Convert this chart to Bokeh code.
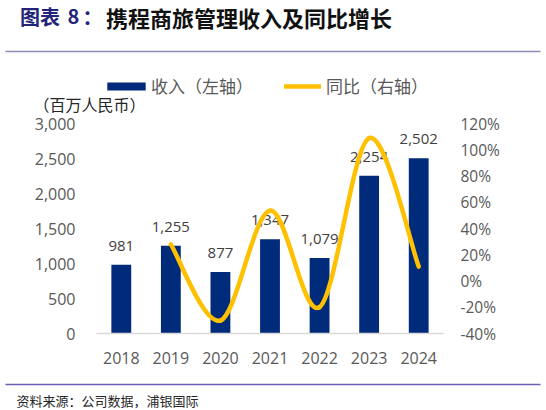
import numpy as np
from bokeh.plotting import figure
from bokeh.models import (Range1d, LinearAxis, FixedTicker, NumeralTickFormatter,
                          PrintfTickFormatter, ColumnDataSource, LabelSet, Label,
                          Legend, LegendItem, BoxAnnotation)
from bokeh.core.properties import value
from bokeh.embed import file_html
from bokeh.resources import INLINE

years = ["2018", "2019", "2020", "2021", "2022", "2023", "2024"]
revenue = [981, 1255, 877, 1347, 1079, 2254, 2502]
yoy_years = ["2019", "2020", "2021", "2022", "2023", "2024"]
yoy = [27.9, -30.1, 53.6, -19.9, 108.9, 11.0]
left_ticks = [0, 500, 1000, 1500, 2000, 2500, 3000]
right_ticks = [-40, -20, 0, 20, 40, 60, 80, 100, 120]

BAR = "#002A7A"
GOLD = "#FFC000"
TICK = "#595959"
NUM_FONT = "Open Sans"
CJK = "Noto Sans CJK SC"

# canvas and plot-area geometry (pixels); the frame fills the canvas and
# the axes are pinned to the plot area with fixed_location
W, H = 546, 410
L, R, T, B = 96, 443, 123, 333
ncat = len(years)
cw = (R - L) / ncat
lo, hi = left_ticks[0], left_ticks[-1]
rlo, rhi = right_ticks[0], right_ticks[-1]
k = (B - T) / (hi - lo)
kr = (B - T) / (rhi - rlo)

p = figure(width=W, height=H, output_backend="svg", toolbar_location=None,
           x_range=Range1d(-0.5 - L / cw, ncat - 0.5 + (W - R) / cw),
           y_range=Range1d(lo - (H - B) / k, hi + T / k),
           x_axis_location=None, y_axis_location=None, min_border=0,
           outline_line_color=None, title=None)
p.extra_y_ranges = {"yoy": Range1d(rlo - (H - B) / kr, rhi + T / kr)}
p.grid.visible = False

ax_x = LinearAxis(ticker=FixedTicker(ticks=list(range(ncat))),
                  major_label_overrides={i: y for i, y in enumerate(years)},
                  fixed_location=lo, bounds=(-0.5, ncat - 0.5))
ax_l = LinearAxis(ticker=FixedTicker(ticks=left_ticks),
                  formatter=NumeralTickFormatter(format="0,0"),
                  fixed_location=-0.5, bounds=(lo, hi))
ax_r = LinearAxis(y_range_name="yoy", ticker=FixedTicker(ticks=right_ticks),
                  formatter=PrintfTickFormatter(format="%d%%"),
                  fixed_location=ncat - 0.5, bounds=(rlo, rhi))
for ax in [ax_x, ax_l, ax_r]:
    ax.major_tick_out = 0
    ax.major_tick_in = 0
    ax.minor_tick_out = 0
    ax.minor_tick_in = 0
    ax.major_tick_line_color = None
    ax.minor_tick_line_color = None
    ax.major_label_text_font = NUM_FONT
    ax.major_label_text_color = TICK
ax_x.major_label_text_font_size = "16px"
ax_l.major_label_text_font_size = "16px"
ax_r.major_label_text_font_size = "15.5px"
ax_x.axis_line_color = "#D9D9D9"
ax_x.axis_line_width = 1.5
ax_l.axis_line_color = None
ax_r.axis_line_color = None
ax_x.major_label_standoff = 18
ax_l.major_label_standoff = 21
ax_r.major_label_standoff = 17
p.add_layout(ax_x, "below")
p.add_layout(ax_l, "left")
p.add_layout(ax_r, "right")

src = ColumnDataSource(dict(x=[years.index(y) for y in years], top=revenue,
                            txt=[f"{v:,}" for v in revenue]))
bars = p.vbar(x="x", top="top", width=0.4, source=src, fill_color=BAR,
              line_color=None)

# smooth line (Catmull-Rom style bezier segments through the yoy points)
xs = np.array([years.index(y) for y in yoy_years], dtype=float)
ys = np.array(yoy, dtype=float)
n = len(xs)
px = np.concatenate([[xs[0]], xs, [xs[-1]]])
py = np.concatenate([[ys[0]], ys, [ys[-1]]])
cx0 = px[1:n] + (px[2:n + 1] - px[0:n - 1]) / 6
cy0 = py[1:n] + (py[2:n + 1] - py[0:n - 1]) / 6
cx1 = px[2:n + 1] - (px[3:n + 2] - px[1:n]) / 6
cy1 = py[2:n + 1] - (py[3:n + 2] - py[1:n]) / 6
curve = p.bezier(x0=xs[:-1], y0=ys[:-1], x1=xs[1:], y1=ys[1:],
                 cx0=cx0, cy0=cy0, cx1=cx1, cy1=cy1, y_range_name="yoy",
                 line_color=GOLD, line_width=4.5, line_cap="round")

labels = LabelSet(x="x", y="top", text="txt", source=src, y_offset=19,
                  text_align="center", text_baseline="middle",
                  text_font=value(NUM_FONT), text_font_size="15px",
                  text_color="#404040", level="underlay")
p.add_layout(labels)


def legend_at(x, label, renderer, glyph_width, standoff):
    # one legend per entry so each keeps its own swatch length
    p.add_layout(Legend(items=[LegendItem(label=label, renderers=[renderer])],
                        location=(x, H - 98), orientation="horizontal",
                        glyph_width=glyph_width, glyph_height=10,
                        label_standoff=standoff, label_height=25, padding=0,
                        margin=0, border_line_color=None,
                        background_fill_color=None, label_text_font=CJK,
                        label_text_font_size="17px", label_text_color=TICK),
                 "center")


legend_at(102, "收入（左轴）", bars, 48, 1)
legend_at(284, "同比（右轴）", curve, 37, 5)


def text_at(x, y, text, size, color, bold=False):
    # x, y: left edge and vertical centre in page pixels from the top-left
    p.add_layout(Label(x=x, y=H - y, x_units="screen", y_units="screen",
                       text=text, text_font=CJK, text_font_size=size,
                       text_font_style="bold" if bold else "normal",
                       text_color=color, text_baseline="middle"))


def rule_at(y, color):
    p.add_layout(BoxAnnotation(left=5, right=540, bottom=H - y - 0.75,
                               top=H - y + 0.75, left_units="screen",
                               right_units="screen", bottom_units="screen",
                               top_units="screen", fill_color=color,
                               fill_alpha=1, line_color=None))


text_at(19.5, 16, "图表", "20px", "#23237A", bold=True)
text_at(67, 16, "8", "20px", "#23237A", bold=True)
text_at(82, 16, "：", "20px", "#23237A", bold=True)
text_at(105.5, 16, "携程商旅管理收入及同比增长", "22px", "#111111", bold=True)
rule_at(51, "#8C8CB4")
text_at(33, 103, "（百万人民币）", "16px", "#262626")
rule_at(384, "#6E5DB5")
text_at(16, 400, "资料来源：公司数据，浦银国际", "13px", "#262626")

open("out.html", "w").write(file_html(p, INLINE))
